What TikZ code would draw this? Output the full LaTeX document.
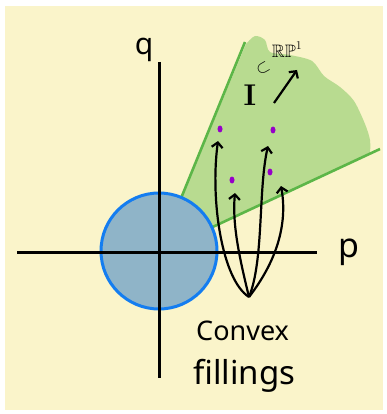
\documentclass[tikz,border=0pt]{standalone}
\usepackage{amssymb}
\usepackage{fontspec}
\setsansfont{Noto Sans}
\usetikzlibrary{arrows.meta,shapes.geometric}
\definecolor{paper}{RGB}{250,244,202}
\definecolor{wedgefill}{RGB}{184,219,144}
\definecolor{wedgeline}{RGB}{92,182,72}
\definecolor{diskline}{RGB}{20,125,240}
\definecolor{diskfill}{RGB}{143,180,200}
\definecolor{dotcol}{RGB}{150,0,200}
\tikzset{
  axis/.style={line width=3pt, black},
  ray/.style={line width=2.6pt, wedgeline},
  fillarrow/.style={line width=2.2pt, black, -{Straight Barb[length=5pt,width=11pt]}},
  hand/.style={font=\sffamily, inner sep=0pt},
  dot/.style={ellipse, fill=dotcol, inner sep=0pt, minimum width=5pt, minimum height=7pt}
}
\begin{document}
\begin{tikzpicture}[x=1pt,y=-1pt]
\useasboundingbox (0,0) rectangle (387,414);
\fill[white] (0,0) rectangle (387,414);
\fill[paper] (5,6) rectangle (383,410);
% wedge fill
\fill[wedgefill] (159,252) -- plot[smooth] coordinates {(246,44) (255,36) (265,40) (270,52) (290,55) (312,61) (324,76) (340,87) (354,101) (365,124) (370,140) (370,154)} -- cycle;
\coordinate (O) at (159,252);
\coordinate (r1) at (245,42);
\coordinate (r2) at (380,149);
\draw[ray] (O) -- (r1);
\draw[ray] (O) -- (r2);
% disk
\node[circle, draw=diskline, fill=diskfill, line width=3pt, minimum size=116pt, inner sep=0pt] (disk) at (159,251) {};
% axes
\coordinate (xl) at (17,252);
\coordinate (xr) at (317,252);
\coordinate (yt) at (159,62);
\coordinate (yb) at (159,378);
\draw[axis] (xl) -- (xr);
\draw[axis] (yt) -- (yb);
\node[hand, font=\sffamily\fontsize{30}{30}\selectfont] (q) at (144,50) {q};
\node[hand, font=\sffamily\fontsize{34}{34}\selectfont] (p) at (349,252) {p};
% dots
\node[dot] (d1) at (220,129) {};
\node[dot] (d2) at (273,130) {};
\node[dot] (d3) at (232,180) {};
\node[dot] (d4) at (270,172) {};
% fillings
\coordinate (src) at (249,297);
\draw[fillarrow] (src) .. controls (222,280) and (210,200) .. (218,141);
\draw[fillarrow] (src) .. controls (240,260) and (232,225) .. (235,193);
\draw[fillarrow] (src) .. controls (264,260) and (258,190) .. (268,146);
\draw[fillarrow] (src) .. controls (276,262) and (288,225) .. (281,186);
\node[hand, font=\sffamily\fontsize{27}{27}\selectfont, anchor=base west] (convex) at (196,340) {Convex};
\node[hand, font=\sffamily\fontsize{33}{33}\selectfont, anchor=base west] (fill) at (193,384) {fillings};
% I subset RP1
\node[inner sep=0pt, font=\bfseries\fontsize{30}{30}\selectfont] (I) at (250,95) {I};
\node[inner sep=0pt, rotate=30, font=\fontsize{17}{17}\selectfont] (sub) at (263,68) {$\subset$};
\node[inner sep=0pt, font=\bfseries\fontsize{18}{18}\selectfont] (rp) at (287,50) {$\mathbb{RP}^1$};
\coordinate (ia) at (274,103);
\coordinate (ib) at (297,70);
\draw[fillarrow] (ia) -- (ib);
\end{tikzpicture}
\end{document}
